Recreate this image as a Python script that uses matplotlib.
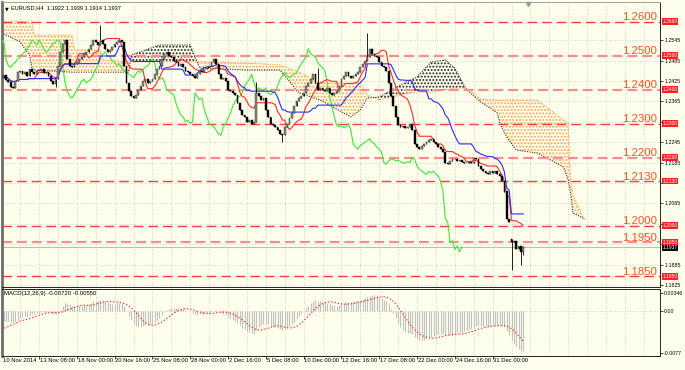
import numpy as np
import pandas as pd
import matplotlib
matplotlib.use("Agg")
import matplotlib.pyplot as plt
import matplotlib.transforms as mtrans

plt.rcParams['font.family'] = ['Liberation Sans', 'DejaVu Sans']
plt.rcParams['hatch.linewidth'] = 0.9

W, H = 685, 370
BG = '#fefeec'

# -----------------------
# Data (EURUSD H4, one close per bar)
# -----------------------
closes = [
    1.2434, 1.2443, 1.2428, 1.2422, 1.2408, 1.2404, 1.2425, 1.2450,
    1.2455, 1.2445, 1.2450, 1.2440, 1.2460, 1.2450, 1.2445, 1.2455,
    1.2455, 1.2460, 1.2448, 1.2452, 1.2440, 1.2425, 1.2415, 1.2430,
    1.2470, 1.2510, 1.2535, 1.2545, 1.2490, 1.2470, 1.2465, 1.2475,
    1.2480, 1.2490, 1.2495, 1.2505, 1.2510, 1.2520, 1.2530, 1.2545,
    1.2540, 1.2530, 1.2545, 1.2535, 1.2520, 1.2510, 1.2515, 1.2525,
    1.2535, 1.2540, 1.2545, 1.2540, 1.2470, 1.2420, 1.2395, 1.2380,
    1.2375, 1.2385, 1.2400, 1.2410, 1.2425, 1.2430, 1.2420, 1.2425,
    1.2430, 1.2445, 1.2460, 1.2470, 1.2490, 1.2505, 1.2510, 1.2500,
    1.2495, 1.2485, 1.2480, 1.2470, 1.2475, 1.2465, 1.2455, 1.2450,
    1.2445, 1.2440, 1.2435, 1.2445, 1.2455, 1.2450, 1.2460, 1.2465,
    1.2470, 1.2480, 1.2490, 1.2475, 1.2445, 1.2430, 1.2435, 1.2425,
    1.2400, 1.2395, 1.2390, 1.2385, 1.2360, 1.2340, 1.2325, 1.2320,
    1.2305, 1.2310, 1.2300, 1.2305, 1.2390, 1.2380, 1.2370, 1.2375,
    1.2340, 1.2320, 1.2300, 1.2295, 1.2290, 1.2280, 1.2270, 1.2265,
    1.2290, 1.2300, 1.2315, 1.2330, 1.2350, 1.2365, 1.2375, 1.2380,
    1.2390, 1.2410, 1.2420, 1.2430, 1.2445, 1.2420, 1.2400, 1.2405,
    1.2400, 1.2395, 1.2405, 1.2390, 1.2385, 1.2390, 1.2395, 1.2410,
    1.2430, 1.2440, 1.2450, 1.2440, 1.2435, 1.2440, 1.2445, 1.2450,
    1.2465, 1.2475, 1.2485, 1.2495, 1.2520, 1.2505, 1.2500, 1.2495,
    1.2480, 1.2470, 1.2465, 1.2455, 1.2420, 1.2380, 1.2350, 1.2320,
    1.2295, 1.2290, 1.2292, 1.2288, 1.2290, 1.2300, 1.2280, 1.2240,
    1.2230, 1.2225, 1.2235, 1.2240, 1.2245, 1.2250, 1.2255, 1.2245,
    1.2240, 1.2230, 1.2225, 1.2215, 1.2185, 1.2180, 1.2190, 1.2195,
    1.2195, 1.2190, 1.2192, 1.2188, 1.2185, 1.2183, 1.2188, 1.2185,
    1.2200, 1.2195, 1.2175, 1.2165, 1.2160, 1.2155, 1.2150, 1.2160,
    1.2155, 1.2160, 1.2150, 1.2145, 1.2130, 1.2100, 1.2020, 1.2010,
    1.1950, 1.1955, 1.1930, 1.1940, 1.1922, 1.1937,
]
# notable wicks and the weekend gap
high_spikes = {42: 1.2590, 108: 1.2422, 134: 1.2463, 155: 1.2566, 221: 1.1939}
low_spikes = {23: 1.2407, 119: 1.2245, 216: 1.1868, 220: 1.1884, 221: 1.1914}
gap_opens = {216: 1.1960}

# Ichimoku cloud (already shifted 26 bars forward)
cloud_bar = [0, 4, 8, 12, 13, 14, 30, 31, 42, 43, 54, 55, 67, 80, 84, 105,
             118, 126, 135, 148, 152, 155, 160, 169, 176, 182, 188, 192,
             197, 203, 210, 211, 214, 218, 227, 238, 240, 241, 242, 247]
span_a = [1.2566, 1.2554, 1.2540, 1.2501, 1.2463, 1.2457, 1.2451, 1.2451,
          1.2451, 1.2451, 1.2451, 1.2501, 1.2531, 1.2531, 1.2463, 1.2457,
          1.2457, 1.2390, 1.2369, 1.2319, 1.2340, 1.2375, 1.2378, 1.2413,
          1.2437, 1.2481, 1.2487, 1.2463, 1.2399, 1.2363, 1.2331, 1.2301,
          1.2260, 1.2222, 1.2213, 1.2172, 1.2134, 1.2096, 1.2037, 1.2019]
span_b = [1.2601, 1.2601, 1.2601, 1.2601, 1.2601, 1.2560, 1.2560, 1.2516,
          1.2516, 1.2487, 1.2481, 1.2481, 1.2481, 1.2481, 1.2481, 1.2478,
          1.2472, 1.2451, 1.2419, 1.2419, 1.2419, 1.2384, 1.2369, 1.2384,
          1.2393, 1.2393, 1.2399, 1.2404, 1.2404, 1.2372, 1.2369, 1.2369,
          1.2369, 1.2369, 1.2369, 1.2310, 1.2301, 1.2134, 1.2090, 1.2016]

ema_seeds = {12: 1.2444, 26: 1.2464}
macd_before = -0.0035
macd_header = (-0.00720, -0.00550)

levels = [1.2600, 1.2500, 1.2400, 1.2300, 1.2200, 1.2130, 1.2000, 1.1950, 1.1850]
bold_levels = [1.2500, 1.2400, 1.2200, 1.1950]
price_ticks = [1.2545, 1.2485, 1.2425, 1.2365, 1.2305, 1.2245, 1.2185,
               1.2125, 1.2065, 1.2005, 1.1945, 1.1885, 1.1825]
price_labels = [1.2545, 1.2485, 1.2425, 1.2365, 1.2245, 1.2185,
                1.2065, 1.1885, 1.1825]
macd_ticks = [0.00346, 0.0, -0.0077]
macd_tick_labels = ['0.00346', '0.00', '-0.0077']
date_labels = ['10 Nov 2014', '13 Nov 08:00', '18 Nov 00:00', '20 Nov 16:00',
               '25 Nov 08:00', '28 Nov 00:00', '2 Dec 16:00', '5 Dec 08:00',
               '10 Dec 00:00', '12 Dec 16:00', '17 Dec 08:00', '22 Dec 00:00',
               '24 Dec 16:00', '31 Dec 00:00']

# -----------------------
# Derived series
# -----------------------
c = pd.Series(closes)
o = c.shift(1).fillna(c.iloc[0])
for k, v in gap_opens.items():
    o.iloc[k] = v
hi = np.maximum(o, c)
lo = np.minimum(o, c)
for k, v in high_spikes.items():
    hi.iloc[k] = max(hi.iloc[k], v)
for k, v in low_spikes.items():
    lo.iloc[k] = min(lo.iloc[k], v)

tenkan = (hi.rolling(9, min_periods=1).max() + lo.rolling(9, min_periods=1).min()) / 2
kijun = (hi.rolling(26, min_periods=1).max() + lo.rolling(26, min_periods=1).min()) / 2


def ema(values, span, seed):
    alpha = 2.0 / (span + 1)
    out = []
    prev = seed
    for v in values:
        prev = prev + alpha * (v - prev)
        out.append(prev)
    return np.array(out)


macd = ema(closes, 12, ema_seeds[12]) - ema(closes, 26, ema_seeds[26])
signal = pd.Series([macd_before] * 8 + list(macd)).rolling(9).mean().values[8:]

x = np.arange(len(closes))
N = len(closes)

# pixel geometry of the MT4 window
BAR_PX = 2.3625
X0_PX = 1.2
xl = ((2 - X0_PX) / BAR_PX, (660 - X0_PX) / BAR_PX)

fig = plt.figure(figsize=(W / 100, H / 100), dpi=100, facecolor=BG)
ax = fig.add_axes([2 / W, 1 - 287 / H, 658 / W, 285 / H], facecolor=BG)
ax2 = fig.add_axes([2 / W, 1 - 356 / H, 658 / W, 67 / H], facecolor=BG)

grid_kw = dict(color='#c4c4c4', lw=0.6, ls=(0, (1, 2)), zorder=0)
for a in (ax, ax2):
    for g in np.arange(8, 290, 8):
        a.axvline(g, **grid_kw)
for p in price_ticks:
    ax.axhline(p, **grid_kw)
ax2.axhline(0, **grid_kw)

# cloud
cb = np.array(cloud_bar, dtype=float)
sa = np.array(span_a)
sb = np.array(span_b)
ax.fill_between(cb, sa, sb, where=sb >= sa, interpolate=True, facecolor='none',
                edgecolor='#ffa347', hatch='.....', lw=0, zorder=1)
ax.fill_between(cb, sa, sb, where=sa > sb, interpolate=True, facecolor='none',
                edgecolor='#222222', hatch='.....', lw=0, zorder=1)
ax.plot(cb, sb, color='#ffa347', lw=0.8, ls=(0, (1, 1.2)), zorder=2)
ax.plot(cb, sa, color='#333333', lw=0.8, ls=(0, (1, 1.2)), zorder=2)

# level lines
for lvl in levels:
    bold = lvl in bold_levels
    ax.axhline(lvl, color='#ff8c8c' if bold else '#ff3b3b', lw=1.6 if bold else 1.0,
               dashes=(7, 3.5) if not bold else (4.5, 2.2), zorder=2)
    ax.text(0.9954, lvl + 0.0004, f'{lvl:.4f}', transform=ax.get_yaxis_transform(),
            ha='right', va='baseline', fontsize=8.2, color='#ff5020', zorder=6)
    ax.text(1.004, lvl, f'{lvl:.4f}', transform=ax.get_yaxis_transform(),
            ha='left', va='center', fontsize=3.5, color='white', clip_on=False, zorder=8,
            bbox=dict(boxstyle='square,pad=0.12', fc='#ff2020', ec='none'))

# current bid line
last = closes[-1]
ax.axhline(last, color='#bdbdbd', lw=0.8, zorder=2)
ax.text(1.004, last - 0.0003, f'{last:.4f}', transform=ax.get_yaxis_transform(),
        ha='left', va='center', fontsize=3.5, color='white', clip_on=False, zorder=9,
        bbox=dict(boxstyle='square,pad=0.12', fc='black', ec='none'))

# ichimoku lines
ax.plot(x - 26, c, color='#33ee33', lw=0.8, zorder=3)
ax.plot(x, tenkan, color='#ff2a2a', lw=0.8, zorder=3)
ax.plot(x, kijun, color='#2a2aff', lw=0.8, zorder=3)

# candles
ax.vlines(x, lo, hi, color='black', lw=0.6, zorder=4)
bull = (c >= o).values
body_lo = np.minimum(o, c).values
body_h = np.maximum(np.abs(c - o).values, 0.00012)
ax.bar(x[bull], body_h[bull], bottom=body_lo[bull], width=0.75,
       color='#8f8f7a', edgecolor='#222222', lw=0.3, zorder=5)
ax.bar(x[~bull], body_h[~bull], bottom=body_lo[~bull], width=0.75,
       color='black', edgecolor='black', lw=0.3, zorder=5)

ax.plot([N + 1], [1.2652], marker='v', color='#9a9a9a', ms=3, zorder=6, clip_on=False)

ax.set_xlim(*xl)
ax.set_ylim(1.26 - (287 - 21.5) / 3400, 1.26 + (21.5 - 2) / 3400)
ax.yaxis.tick_right()
ax.set_yticks(price_ticks)
ax.set_yticklabels([f'{p:.4f}' if p in price_labels else '' for p in price_ticks])
ax.tick_params(axis='y', length=2, width=0.5, pad=1, labelsize=3.8)
ax.tick_params(axis='x', length=0, labelbottom=False)

ax.text(0.004, 0.985, '\u25bc', transform=ax.transAxes, ha='left', va='top',
        fontsize=3.5, family=['DejaVu Sans'])
ax.text(0.013, 0.987,
        f'EURUSD,H4  {o.iloc[-1]:.4f} {hi.iloc[-1]:.4f} {lo.iloc[-1]:.4f} {c.iloc[-1]:.4f}',
        transform=ax.transAxes, ha='left', va='top', fontsize=4.1)

# MACD
ax2.vlines(x, 0, macd, color='#c2c2c2', lw=0.8, zorder=2)
ax2.plot(x, signal, color='#ff2020', lw=0.8, ls=(0, (1.2, 1.8)), zorder=3)
ax2.set_xlim(*xl)
ax2.set_ylim(-0.0082, 0.00414)
ax2.yaxis.tick_right()
ax2.set_yticks(macd_ticks)
ax2.set_yticklabels(macd_tick_labels)
ax2.tick_params(axis='y', length=2, width=0.5, pad=1, labelsize=3.8)
ax2.text(0.003, 0.97, f'MACD(12,26,9) {macd_header[0]:.5f} {macd_header[1]:.5f}',
         transform=ax2.transAxes, ha='left', va='top', fontsize=4.3)

label_bars = [0.5] + [16 * k for k in range(1, len(date_labels))]
ax2.set_xticks(label_bars[1:])
ax2.tick_params(axis='x', length=2, width=0.5, labelbottom=False)
tr = mtrans.blended_transform_factory(ax2.transData, fig.transFigure)
for b, lab in zip(label_bars, date_labels):
    ax2.text(b + 0.3, 1 - 357.5 / H, lab, transform=tr, ha='left', va='top',
             fontsize=4.2, clip_on=False)

for a in (ax, ax2):
    a.spines['left'].set_color('#6e6e6e')
    a.spines['left'].set_linewidth(2.0)
    for s in ('right', 'bottom', 'top'):
        a.spines[s].set_color('#222222')
        a.spines[s].set_linewidth(0.7)
ax.spines['top'].set_color('#a0a0a0')

fig.savefig('out.png', dpi=100, facecolor=BG)
